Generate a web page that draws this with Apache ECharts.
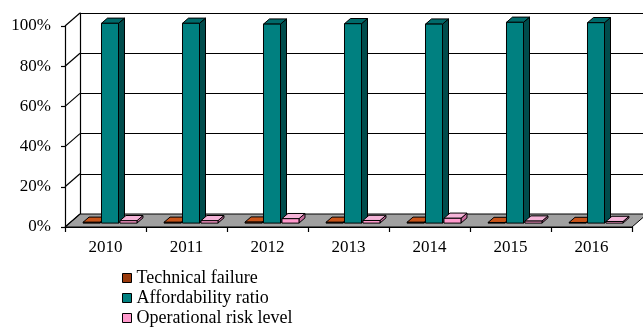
<!DOCTYPE html>
<html>
<head>
<meta charset="utf-8">
<script src="https://cdn.jsdelivr.net/npm/echarts@6/dist/echarts.min.js"></script>
<style>html,body{margin:0;padding:0;background:#fff}#c{width:643px;height:329px}</style>
</head>
<body>
<div id="c"></div>
<script>
const categories = ['2010', '2011', '2012', '2013', '2014', '2015', '2016'];
const technicalFailure = [0.4, 0.4, 0.5, 0.4, 0.4, 0.3, 0.3];
const affordabilityRatio = [99.4, 99.4, 99.0, 99.2, 99.0, 99.9, 99.7];
const operationalRiskLevel = [1.2, 1.2, 2.2, 1.3, 2.4, 1.0, 0.8];
const yTicks = [0, 20, 40, 60, 80, 100];
const seriesNames = ['Technical failure', 'Affordability ratio', 'Operational risk level'];

const DX = 15, DY = -13;      // depth of the 3D box
const F0 = 0.3, F1 = 0.7;     // bar depth range
const FONT = 'Liberation Serif, Times New Roman, serif';

const faces = [
  { front: '#9a3a0c', side: '#5e2206', top: '#c8541a' },
  { front: '#008080', side: '#004c4c', top: '#006a6a' },
  { front: '#ff99cc', side: '#c86a9c', top: '#f4b4d8' }
];

function barRender(k) {
  const f = faces[k];
  return function (params, api) {
    const i = api.value(0), v = api.value(1);
    const base = api.coord([i, 0]);
    const top = api.coord([i, v]);
    const band = api.size([1, 0])[0];
    const w = band * 0.21, step = band * 0.228;
    const cx = base[0] + (k - 1) * step;
    const x0 = cx - w / 2 + F0 * DX, x1 = cx + w / 2 + F0 * DX;
    const yb = base[1] + F0 * DY, yt = top[1] + F0 * DY;
    const ddx = (F1 - F0) * DX, ddy = (F1 - F0) * DY;
    const st = { stroke: '#000', lineWidth: 1 };
    return {
      type: 'group',
      children: [
        { type: 'polygon', shape: { points: [[x1, yt], [x1 + ddx, yt + ddy], [x1 + ddx, yb + ddy], [x1, yb]] }, style: Object.assign({ fill: f.side }, st) },
        { type: 'polygon', shape: { points: [[x0, yt], [x1, yt], [x1 + ddx, yt + ddy], [x0 + ddx, yt + ddy]] }, style: Object.assign({ fill: f.top }, st) },
        { type: 'rect', shape: { x: x0, y: yt, width: w, height: yb - yt }, style: Object.assign({ fill: f.front }, st) }
      ]
    };
  };
}

function frameRender(params, api) {
  const cs = params.coordSys;
  const L = cs.x, R = cs.x + cs.width, B = cs.y + cs.height;
  const children = [
    { type: 'polygon', shape: { points: [[L, B], [R, B], [R + DX, B + DY], [L + DX, B + DY]] }, style: { fill: '#a0a0a0', stroke: '#000', lineWidth: 1 } }
  ];
  yTicks.forEach(function (t) {
    const y = api.coord([0, t])[1];
    children.push({ type: 'line', shape: { x1: L, y1: y, x2: L + DX, y2: y + DY }, style: { stroke: '#000', lineWidth: 1.2 } });
  });
  return { type: 'group', children: children };
}

const seriesData = [technicalFailure, affordabilityRatio, operationalRiskLevel];

const chart = echarts.init(document.getElementById('c'), null, { renderer: 'canvas' });
chart.setOption({
  animation: false,
  backgroundColor: '#fff',
  textStyle: { fontFamily: FONT },
  grid: [
    { left: 65, right: 11, top: 26, bottom: 102 },
    { left: 80, right: -4, top: 13, bottom: 115 }
  ],
  xAxis: [
    {
      type: 'category', data: categories, gridIndex: 0, boundaryGap: true,
      axisLine: { lineStyle: { color: '#000', width: 1.2 } },
      axisTick: { show: true, length: 5, lineStyle: { color: '#000', width: 1.2 } },
      axisLabel: { color: '#000', fontSize: 17, fontFamily: FONT, margin: 12 },
      splitLine: { show: false }
    },
    { type: 'value', gridIndex: 1, show: false, min: 0, max: 1 }
  ],
  yAxis: [
    {
      type: 'value', gridIndex: 0, min: yTicks[0], max: yTicks[yTicks.length - 1], interval: yTicks[1] - yTicks[0],
      axisLine: { show: true, lineStyle: { color: '#000', width: 1.2 } },
      axisTick: { show: true, length: 4, lineStyle: { color: '#000', width: 1.2 } },
      axisLabel: { color: '#000', fontSize: 17, fontFamily: FONT, margin: 14, formatter: '{value}%' },
      splitLine: { show: false }
    },
    {
      type: 'value', gridIndex: 1, min: yTicks[0], max: yTicks[yTicks.length - 1], interval: yTicks[1] - yTicks[0],
      axisLine: { show: true, lineStyle: { color: '#000', width: 1.2 } },
      axisTick: { show: false }, axisLabel: { show: false },
      splitLine: { show: true, lineStyle: { color: '#000', width: 1.2 } }
    }
  ],
  legend: seriesNames.map(function (name, k) {
    return {
      orient: 'vertical', left: 122, top: 269 + k * 20, padding: 0,
      itemWidth: 9, itemHeight: 9,
      icon: 'rect',
      itemStyle: { borderColor: '#000', borderWidth: 1 },
      textStyle: { color: '#000', fontSize: 18, fontFamily: FONT },
      data: [name]
    };
  }),
  series: [
    {
      type: 'custom', name: 'frame', xAxisIndex: 0, yAxisIndex: 0, z: 1, silent: true,
      renderItem: frameRender, data: [[0, 0]], clip: false
    }
  ].concat(seriesNames.map(function (name, k) {
    return {
      type: 'custom', name: name, xAxisIndex: 0, yAxisIndex: 0, z: 2 + k,
      itemStyle: { color: faces[k].front },
      encode: { x: 0, y: 1 },
      clip: false,
      renderItem: barRender(k),
      data: seriesData[k].map(function (v, i) { return [i, v]; })
    };
  }))
});
</script>
</body>
</html>
